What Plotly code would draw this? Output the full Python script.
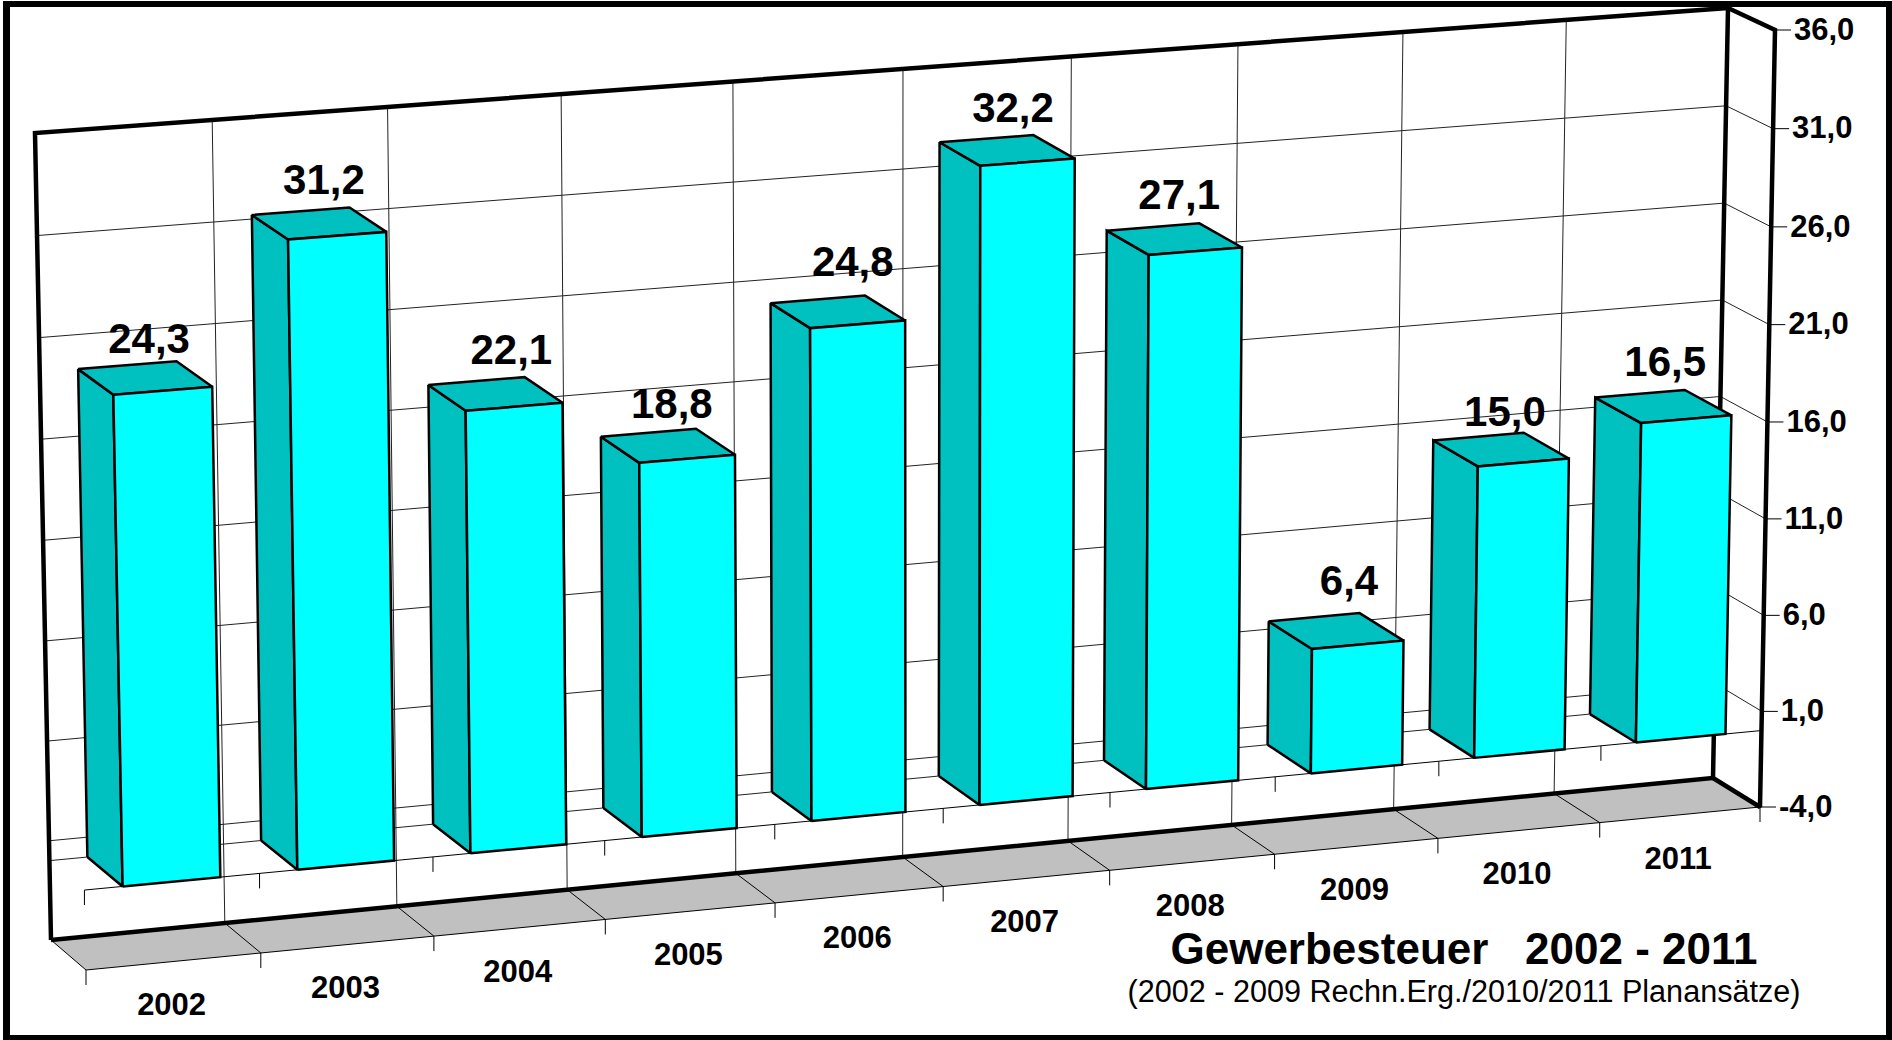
import numpy as np
import plotly.graph_objects as go

# ---- data ----
years = ["2002", "2003", "2004", "2005", "2006", "2007", "2008", "2009", "2010", "2011"]
values = [24.3, 31.2, 22.1, 18.8, 24.8, 32.2, 27.1, 6.4, 15.0, 16.5]
value_labels = ["24,3", "31,2", "22,1", "18,8", "24,8", "32,2", "27,1", "6,4", "15,0", "16,5"]
axis_ticks = [-4, 1, 6, 11, 16, 21, 26, 31, 36]
axis_tick_labels = ["-4,0", "1,0", "6,0", "11,0", "16,0", "21,0", "26,0", "31,0", "36,0"]
title_text = "Gewerbesteuer\u00a0\u00a0\u00a02002 - 2011"
subtitle_text = "(2002 - 2009 Rechn.Erg./2010/2011 Planansätze)"

# ---- the chart's 3D box as seen on the page (view geometry, not data) ----
N = len(years)
V0, V1 = axis_ticks[0], axis_ticks[-1]
BACK = [(51, 940), (1713, 778), (1728, 8), (35, 133)]   # bl, br, tr, tl
FRONT = [(86, 970), (1760, 807), (1775, 30), (70, 157)]
BAR_FROM, BAR_TO = 0.217, 0.775
FONT = "Liberation Sans"
label_shift = [(4, -35), (5, -40), (16, -40), (4, -38), (15, -46), (6, -39), (5, -41), (13, -47), (4, -34), (2, -41)]


def homography(pts):
    src = [(0, 0), (1, 0), (1, 1), (0, 1)]
    A, b = [], []
    for (s, t), (x, y) in zip(src, pts):
        A.append([s, t, 1, 0, 0, 0, -s * x, -t * x])
        A.append([0, 0, 0, s, t, 1, -s * y, -t * y])
        b += [x, y]
    h = np.linalg.solve(np.array(A, float), np.array(b, float))
    return np.append(h, 1).reshape(3, 3)


HB, HF = homography(BACK), homography(FRONT)


def project(u, v, w):
    """u: category axis position, v: value, w: 0 back wall .. 1 front"""
    p = np.array([u / N, (v - V0) / (V1 - V0), 1.0])
    b, f = HB @ p, HF @ p
    b, f = b[:2] / b[2], f[:2] / f[2]
    return tuple(b + (f - b) * w)


fig = go.Figure()


def lines(segs, width, color="black"):
    xs, ys = [], []
    for seg in segs:
        for p in seg:
            xs.append(p[0])
            ys.append(p[1])
        xs.append(None)
        ys.append(None)
    fig.add_trace(go.Scatter(x=xs, y=ys, mode="lines", hoverinfo="skip",
                             line=dict(color=color, width=width)))


def poly(pts, fill, width=2.5):
    fig.add_trace(go.Scatter(x=[p[0] for p in pts] + [pts[0][0]], y=[p[1] for p in pts] + [pts[0][1]],
                             mode="lines", fill="toself", fillcolor=fill, hoverinfo="skip",
                             line=dict(color="black", width=width)))


def text(pts, labels, size, weight="bold", pos="middle center"):
    fig.add_trace(go.Scatter(x=[p[0] for p in pts], y=[p[1] for p in pts], mode="text", text=labels,
                             textposition=pos, hoverinfo="skip",
                             textfont=dict(family=FONT, size=size, color="black", weight=weight)))


# floor
poly([project(0, V0, 0), project(N, V0, 0), project(N, V0, 1), project(0, V0, 1)], "#C0C0C0", 1)
lines([[project(i, V0, 0), project(i, V0, 1)] for i in range(1, N)], 1)

# wall grid
lines([[project(i, V0, 0), project(i, V1, 0)] for i in range(1, N)], 1, "#222222")
lines([[project(0, v, 0), project(N, v, 0)] for v in axis_ticks[1:-1] + [0]], 1, "#222222")
lines([[project(N, v, 0), project(N, v, 1)] for v in axis_ticks[1:-1]], 1, "#222222")

# category axis on the zero plane and at the floor edge, with tick marks
lines([[project(0, 0, 1), project(N, 0, 1)]], 1)
ticks = []
for i in range(N + 1):
    for v in (0, V0):
        x, y = project(i, v, 1)
        ticks.append([(x, y), (x, y + 15)])
lines(ticks, 1)

# value-axis tick marks
lines([[project(N, v, 1), (project(N, v, 1)[0] + 16, project(N, v, 1)[1])] for v in axis_ticks], 1)

# heavy frame of the box
lines([[project(0, V0, 0), project(0, V1, 0), project(N, V1, 0), project(N, V0, 0), project(0, V0, 0)],
       [project(N, V1, 0), project(N, V1, 1), project(N, V0, 1), project(N, V0, 0)]], 4.5)

# bars
for i, val in enumerate(values):
    a, c = i + BAR_FROM, i + BAR_TO
    poly([project(a, 0, 0), project(a, val, 0), project(a, val, 1), project(a, 0, 1)], "#00C0C0")
    poly([project(a, val, 0), project(c, val, 0), project(c, val, 1), project(a, val, 1)], "#00C0C0")
    poly([project(a, 0, 1), project(c, 0, 1), project(c, val, 1), project(a, val, 1)], "#00FFFF")

# texts
tops = []
for i, val in enumerate(values):
    x, y = project(i + (BAR_FROM + BAR_TO) / 2, val, 0.5)
    tops.append((x + label_shift[i][0], y + label_shift[i][1]))
text(tops, value_labels, 42)

cat_pts = []
for i in range(N):
    x, y = project(i + 0.5, V0, 1)
    cat_pts.append((x - 2, y + 46))
text(cat_pts, years, 31)

tick_pts = []
for v in axis_ticks:
    x, y = project(N, v, 1)
    tick_pts.append((x + 19, y + 2))
text(tick_pts, axis_tick_labels, 31, pos="middle right")

text([(1464, 953)], [title_text], 44)
text([(1464, 994)], [subtitle_text], 30.6, weight="normal")

# page frame
frame = [(3, 1, 10, 1040), (3, 1, 1892, 7), (1886, 1, 1892, 1040), (3, 1035, 1892, 1040)]
shapes = [dict(type="rect", x0=a, y0=b, x1=c, y1=d, xref="x", yref="y", fillcolor="black",
               line=dict(width=0), layer="above") for a, b, c, d in frame]

fig.update_layout(
    width=1892, height=1040, autosize=False, showlegend=False,
    margin=dict(l=0, r=0, t=0, b=0), paper_bgcolor="white", plot_bgcolor="white",
    xaxis=dict(range=[0, 1892], visible=False, fixedrange=True),
    yaxis=dict(range=[1040, 0], visible=False, fixedrange=True),
    shapes=shapes,
)
fig.write_html("out.html", config={"displayModeBar": False},
               post_script="document.body.style.margin='0';document.body.style.overflow='hidden';")
